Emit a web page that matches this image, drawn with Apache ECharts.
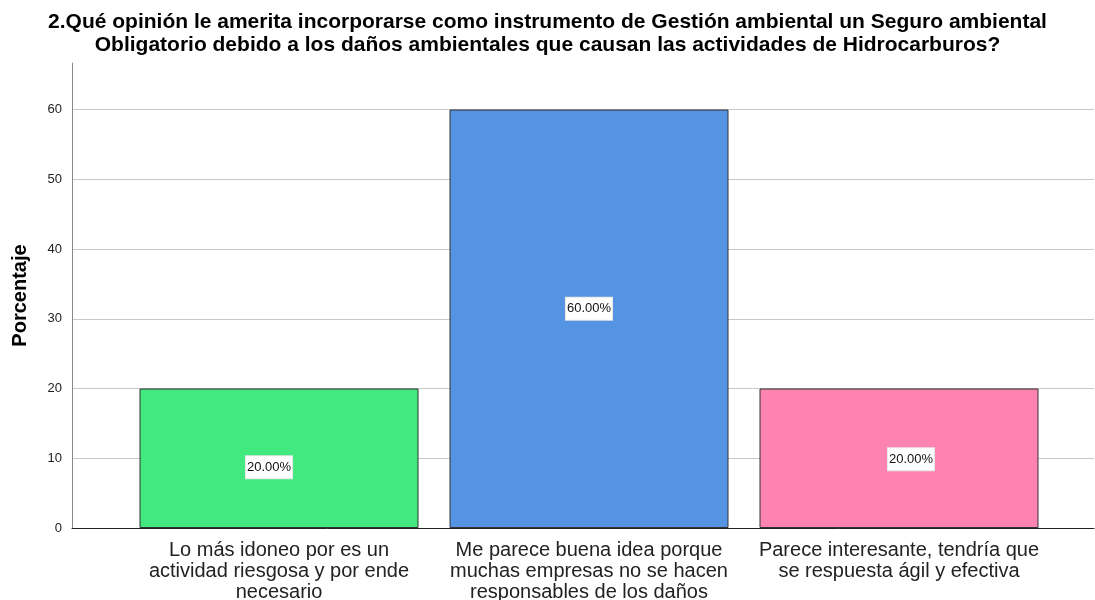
<!DOCTYPE html>
<html>
<head>
<meta charset="utf-8">
<script src="https://cdn.jsdelivr.net/npm/echarts@6/dist/echarts.min.js"></script>
<style>
  html, body { margin: 0; padding: 0; background: #fff; }
  #chart { width: 1095px; height: 600px; }
</style>
</head>
<body>
<div id="chart"></div>
<script>
const titleText = "2.Qué opinión le amerita incorporarse como instrumento de Gestión ambiental un Seguro ambiental\nObligatorio debido a los daños ambientales que causan las actividades de Hidrocarburos?";
const categories = [
  "Lo más idoneo por es un\nactividad riesgosa y por ende\nnecesario",
  "Me parece buena idea porque\nmuchas empresas no se hacen\nresponsables de los daños",
  "Parece interesante, tendría que\nse respuesta ágil y efectiva"
];
const percentages = [20, 60, 20];
const barColors = ["#41E97F", "#5594E3", "#FF83B1"];
const labelOffsets = [[-10, 9], [0, -10], [12, 1]];
const yMax = 66.67;

const chart = echarts.init(document.getElementById("chart"), null, { renderer: "canvas" });

const option = {
  animation: false,
  title: {
    text: titleText,
    left: "center",
    top: 6,
    textStyle: { fontFamily: "Liberation Sans, Arial", fontSize: 21, fontWeight: "bold", color: "#000", lineHeight: 23 }
  },
  grid: [
    { left: 72, right: 1, top: 63, bottom: 72, outerBoundsMode: "none" },
    { left: 124, right: 41, top: 63, bottom: 72, outerBoundsMode: "none" }
  ],
  xAxis: [
    {
      type: "value", gridIndex: 0, min: 0, max: 1,
      axisLine: { show: true, lineStyle: { color: "#222", width: 1 } },
      axisTick: { show: false }, axisLabel: { show: false }, splitLine: { show: false }
    },
    {
      type: "category", gridIndex: 1, data: categories,
      axisLine: { show: false }, axisTick: { show: false },
      axisLabel: {
        interval: 0, margin: 12, color: "#222",
        fontFamily: "Liberation Sans, Arial", fontSize: 20, lineHeight: 21
      }
    }
  ],
  yAxis: [
    {
      type: "value", gridIndex: 0, min: 0, max: yMax, interval: 10,
      name: "Porcentaje", nameLocation: "middle", nameGap: 42,
      nameTextStyle: { fontFamily: "Liberation Sans, Arial", fontSize: 20, fontWeight: "bold", color: "#000" },
      axisLine: { show: true, lineStyle: { color: "#888" } },
      axisTick: { show: false },
      axisLabel: { showMaxLabel: false, margin: 10, color: "#222", fontFamily: "Liberation Sans, Arial", fontSize: 13 },
      splitLine: { show: true, showMaxLine: false, lineStyle: { color: "#c8c8c8", width: 1 } }
    },
    {
      type: "value", gridIndex: 1, min: 0, max: yMax, interval: 10,
      axisLine: { show: false }, axisTick: { show: false }, axisLabel: { show: false }, splitLine: { show: false }
    }
  ],
  series: [{
    type: "bar",
    xAxisIndex: 1,
    yAxisIndex: 1,
    barCategoryGap: "10%",
    data: percentages.map((v, i) => ({
      value: v,
      itemStyle: { color: barColors[i] },
      label: { offset: labelOffsets[i] }
    })),
    itemStyle: { borderColor: "#333", borderWidth: 1 },
    label: {
      show: true,
      position: "inside",
      formatter: p => p.value.toFixed(2) + "%",
      color: "#111",
      fontFamily: "Liberation Sans, Arial",
      fontSize: 13,
      backgroundColor: "#fff",
      borderColor: "#e6e6e6",
      borderWidth: 1,
      padding: [5, 1, 4, 1]
    }
  }]
};

chart.setOption(option);
</script>
</body>
</html>
